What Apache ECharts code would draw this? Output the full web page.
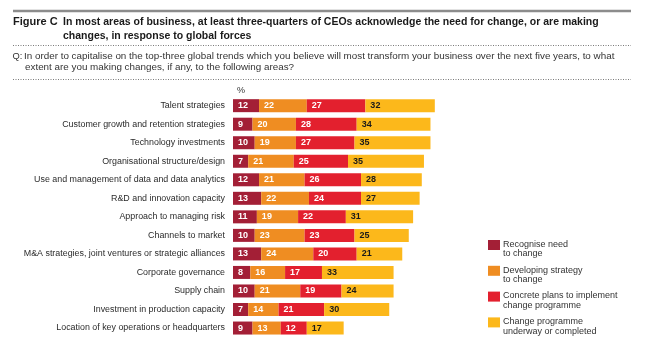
<!DOCTYPE html>
<html>
<head>
<meta charset="utf-8">
<script src="https://cdn.jsdelivr.net/npm/echarts@6/dist/echarts.min.js"></script>
<style>
  html, body { margin: 0; padding: 0; background: #ffffff; }
  #chart { width: 650px; height: 349px; }
</style>
</head>
<body>
<div id="chart"></div>
<script>
// Areas of business, top to bottom
const categories = [
  'Talent strategies',
  'Customer growth and retention strategies',
  'Technology investments',
  'Organisational structure/design',
  'Use and management of data and data analytics',
  'R&D and innovation capacity',
  'Approach to managing risk',
  'Channels to market',
  'M&A strategies, joint ventures or strategic alliances',
  'Corporate governance',
  'Supply chain',
  'Investment in production capacity',
  'Location of key operations or headquarters'
];

// Share of CEOs (%) at each stage of change
const recogniseNeed      = [12, 9, 10, 7, 12, 13, 11, 10, 13, 8, 10, 7, 9];
const developingStrategy = [22, 20, 19, 21, 21, 22, 19, 23, 24, 16, 21, 14, 13];
const concretePlans      = [27, 28, 27, 25, 26, 24, 22, 23, 20, 17, 19, 21, 12];
const underwayCompleted  = [32, 34, 35, 35, 28, 27, 31, 25, 21, 33, 24, 30, 17];

const seriesNames = [
  'Recognise need\nto change',
  'Developing strategy\nto change',
  'Concrete plans to implement\nchange programme',
  'Change programme\nunderway or completed'
];
const seriesData = [recogniseNeed, developingStrategy, concretePlans, underwayCompleted];
const colors = ['#a31f36', '#ef8d22', '#e3202e', '#fcb81b'];
const labelColors = ['#ffffff', '#ffffff', '#ffffff', '#1a1a1a'];

const FONT = '"Liberation Sans", Arial, Helvetica, sans-serif';

const chart = echarts.init(document.getElementById('chart'), null, { renderer: 'canvas' });

const series = seriesData.map((data, i) => ({
  name: seriesNames[i],
  type: 'bar',
  stack: 'total',
  data: data,
  barWidth: 13,
  itemStyle: { color: colors[i] },
  label: {
    show: true,
    position: 'insideLeft',
    distance: 5,
    color: labelColors[i],
    fontFamily: FONT,
    fontSize: 9,
    fontWeight: 'bold',
    formatter: '{c}'
  },
  emphasis: { disabled: true }
}));

// Legend drawn as swatch + two-line caption, swatch aligned to the first line
const legendGraphics = [];
seriesNames.forEach((name, i) => {
  const top = 240 + i * 25.8;
  legendGraphics.push({
    type: 'rect',
    shape: { x: 488, y: top, width: 12, height: 10 },
    style: { fill: colors[i] }
  });
  legendGraphics.push({
    type: 'text',
    x: 503,
    y: top - 0.5,
    style: {
      text: name,
      font: '9px ' + FONT,
      lineHeight: 9.6,
      fill: '#333333',
      textVerticalAlign: 'top'
    }
  });
});

const questionStyle = { fontFamily: FONT, fontSize: 9.85, fontWeight: 'normal', color: '#333333', lineHeight: 10.5 };

const option = {
  animation: false,
  backgroundColor: '#ffffff',
  textStyle: { fontFamily: FONT },
  title: [
    {
      text: 'Figure C',
      left: 13,
      top: 15.5,
      padding: 0,
      textStyle: { fontFamily: FONT, fontSize: 11, fontWeight: 'bold', color: '#1a1a1a', lineHeight: 13 }
    },
    {
      text: 'In most areas of business, at least three-quarters of CEOs acknowledge the need for change, or are making\nchanges, in response to global forces',
      left: 63,
      top: 15.5,
      padding: 0,
      textStyle: { fontFamily: FONT, fontSize: 10.5, fontWeight: 'bold', color: '#1a1a1a', lineHeight: 13.5 }
    },
    {
      text: 'Q:',
      left: 12.5,
      top: 51.5,
      padding: 0,
      textStyle: Object.assign({}, questionStyle, { fontSize: 9.3 })
    },
    {
      text: 'In order to capitalise on the top-three global trends which you believe will most transform your business over the next five years, to what',
      left: 24,
      top: 51.5,
      padding: 0,
      textStyle: questionStyle
    },
    {
      text: 'extent are you making changes, if any, to the following areas?',
      left: 25,
      top: 62,
      padding: 0,
      textStyle: questionStyle
    }
  ],
  graphic: [
    {
      type: 'line',
      shape: { x1: 13, y1: 11, x2: 631, y2: 11 },
      style: { stroke: '#8c8c8c', lineWidth: 2.5 }
    },
    {
      type: 'line',
      shape: { x1: 13, y1: 45.5, x2: 631, y2: 45.5 },
      style: { stroke: '#7a7a7a', lineWidth: 1, lineDash: [1, 1.5] }
    },
    {
      type: 'line',
      shape: { x1: 13, y1: 79.5, x2: 631, y2: 79.5 },
      style: { stroke: '#7a7a7a', lineWidth: 1, lineDash: [1, 1.5] }
    },
    {
      type: 'text',
      x: 237,
      y: 91,
      style: { text: '%', font: '9px ' + FONT, fill: '#333333', textVerticalAlign: 'middle' }
    },
    ...legendGraphics
  ],
  grid: {
    left: 233,
    width: 217,
    top: 96.4,
    height: 240.9,
    containLabel: false
  },
  xAxis: {
    type: 'value',
    min: 0,
    max: 100,
    show: false
  },
  yAxis: {
    type: 'category',
    data: categories,
    inverse: true,
    axisLine: { show: false },
    axisTick: { show: false },
    splitLine: { show: false },
    axisLabel: {
      margin: 8,
      fontFamily: FONT,
      fontSize: 8.9,
      color: '#2b2b2b'
    }
  },
  series: series
};

chart.setOption(option);
</script>
</body>
</html>
